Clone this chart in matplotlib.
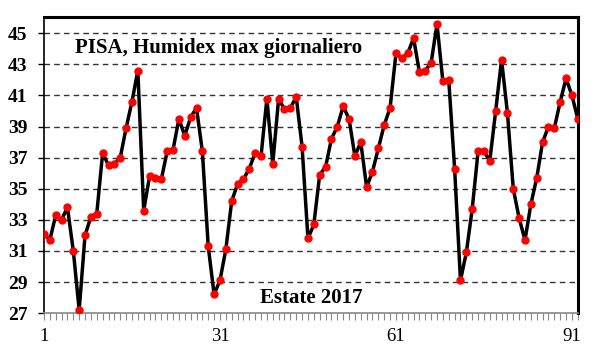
import numpy as np
import matplotlib
matplotlib.use('Agg')
import matplotlib.pyplot as plt

# Humidex max giornaliero, Pisa, estate 2017 (1 giugno - 31 agosto)
giorni = np.arange(1, 93)
humidex = [32.1, 31.7, 33.3, 33.0, 33.8, 31.0, 27.2, 32.0, 33.2, 33.4,
           37.3, 36.5, 36.6, 37.0, 38.9, 40.6, 42.6, 33.6, 35.8, 35.7,
           35.6, 37.4, 37.5, 39.5, 38.4, 39.6, 40.2, 37.4, 31.3, 28.2,
           29.1, 31.1, 34.2, 35.3, 35.6, 36.3, 37.3, 37.1, 40.8, 36.6,
           40.8, 40.1, 40.2, 40.9, 37.7, 31.8, 32.7, 35.9, 36.4, 38.2,
           39.0, 40.3, 39.5, 37.1, 38.0, 35.1, 36.1, 37.6, 39.1, 40.2,
           43.7, 43.4, 43.7, 44.7, 42.5, 42.6, 43.1, 45.6, 41.9, 42.0,
           36.3, 29.1, 30.9, 33.7, 37.4, 37.4, 36.8, 40.0, 43.3, 39.9,
           35.0, 33.1, 31.7, 34.0, 35.7, 38.0, 39.0, 38.9, 40.6, 42.1,
           41.0, 39.5]
yticks = [27, 29, 31, 33, 35, 37, 39, 41, 43, 45]
xticks = [1, 31, 61, 91]

plt.rcParams['font.family'] = ['Liberation Serif', 'DejaVu Serif']

fig = plt.figure(figsize=(6, 3.53), dpi=100)
ax = fig.add_axes([0.0733, 0.113, 0.8897, 0.839])

for y in yticks[1:]:
    ax.axhline(y, color='#333333', lw=1.0, ls=(0, (4, 3)), zorder=1)

ax.plot(giorni, humidex, color='black', lw=2.5, zorder=2)
ax.plot(giorni, humidex, 'o', color='red', ms=5, mec='red', zorder=3)

ax.set_xlim(1, 92)
ax.set_ylim(27, 46.05)
ax.set_yticks(yticks)
ax.set_yticklabels([str(v) for v in yticks], fontweight='bold', fontsize=14)
ax.set_xticks(xticks)
ax.set_xticklabels([str(v) for v in xticks], fontsize=13.5)
ax.set_xticks(giorni, minor=True)
ax.tick_params(axis='x', which='both', direction='out', length=5, width=0.8,
               color='#888888', pad=6)
ax.tick_params(axis='y', direction='out', length=4, width=1, pad=8)

ax.spines['top'].set_linewidth(2.2)
ax.spines['right'].set_linewidth(2.2)
ax.spines['left'].set_linewidth(1.2)
ax.spines['bottom'].set_linewidth(1.2)
ax.spines['bottom'].set_color('#888888')

ax.text(0.058, 0.895, 'PISA, Humidex max giornaliero', transform=ax.transAxes,
        fontsize=15, fontweight='bold', ha='left', va='center')
ax.text(0.405, 0.05, 'Estate 2017', transform=ax.transAxes,
        fontsize=15, fontweight='bold', ha='left', va='center')

fig.savefig('out.png', dpi=100)
